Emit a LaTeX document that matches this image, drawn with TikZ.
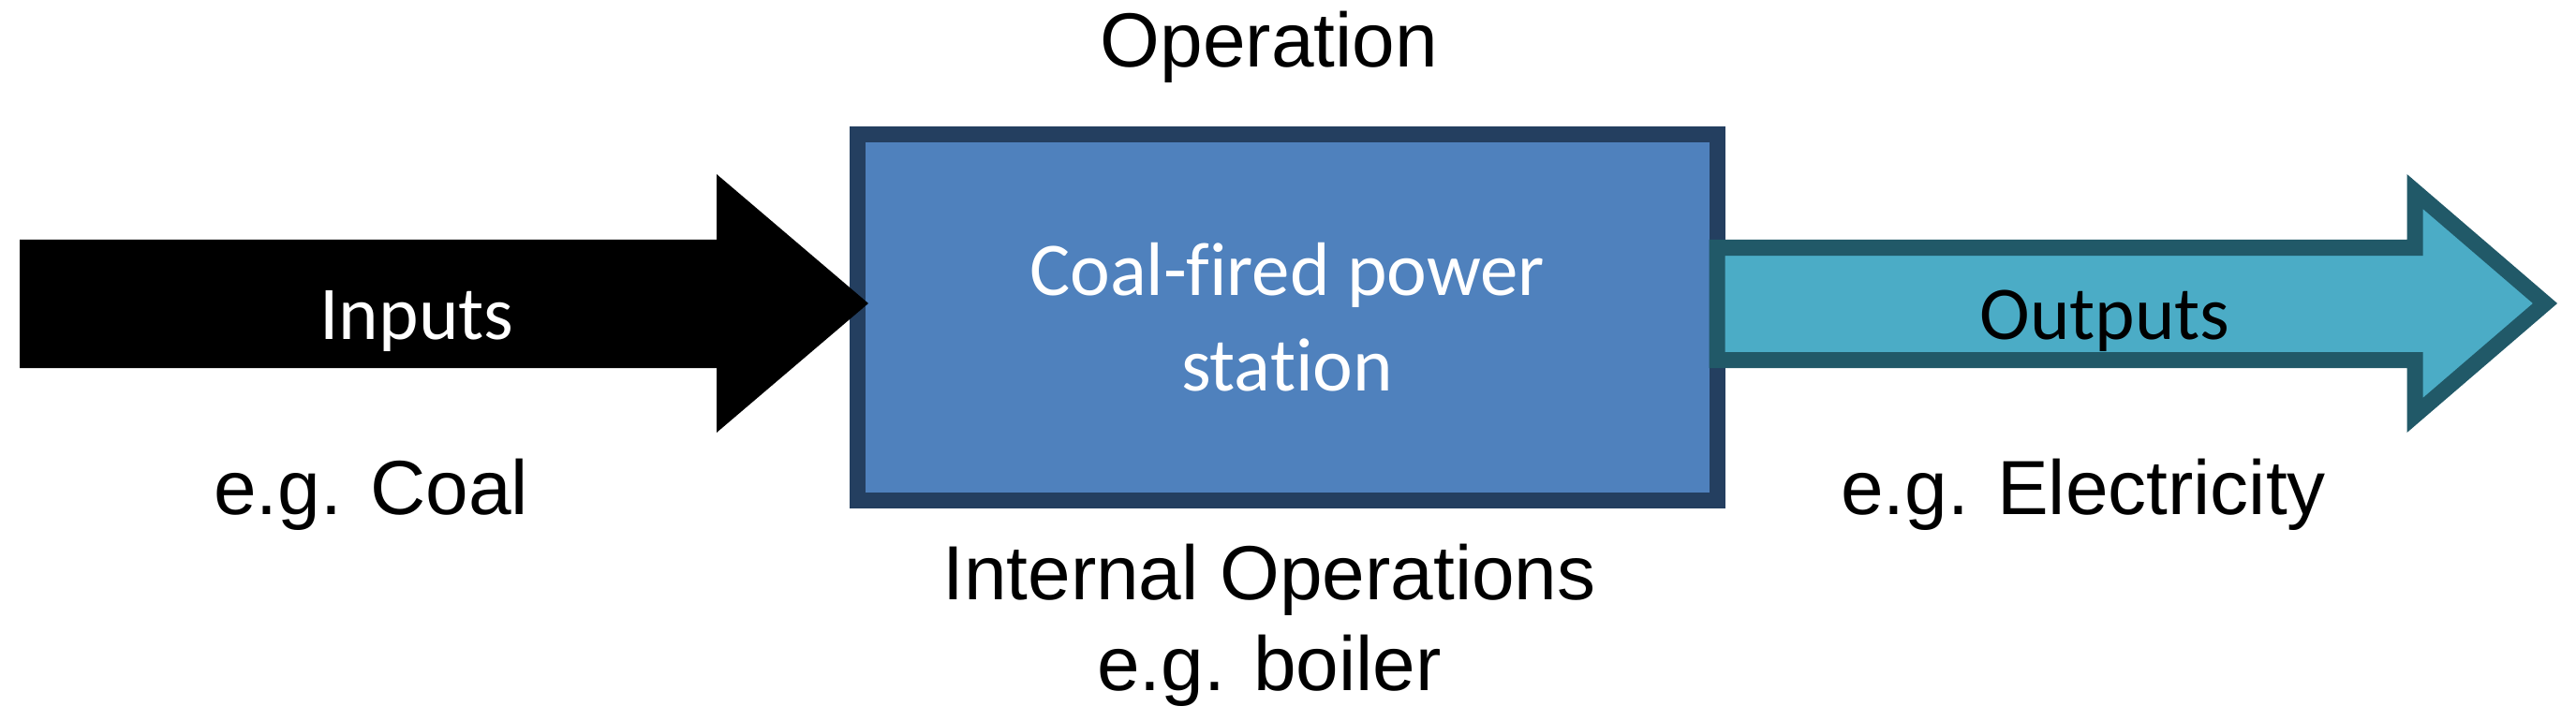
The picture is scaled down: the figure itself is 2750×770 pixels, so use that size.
\documentclass[tikz,border=0pt]{standalone}
\usepackage{fontspec}
\setmainfont{Liberation Sans}
\newfontfamily\calib[Ligatures=NoCommon]{Carlito}
\definecolor{boxfill}{HTML}{4F81BD}
\definecolor{boxline}{HTML}{243F60}
\definecolor{tealfill}{HTML}{4BACC6}
\definecolor{tealline}{HTML}{215968}
\tikzset{
  lbl/.style={anchor=base, inner sep=0pt, font=\fontsize{20.5pt}{24.25pt}\selectfont},
  shapetext/.style={anchor=base, inner sep=0pt, font=\calib\fontsize{20.25pt}{25.5pt}\selectfont},
  stationbox/.style={draw=boxline, fill=boxfill, line width=4.25pt, rectangle, inner sep=0pt,
     minimum width=229.5pt, minimum height=97.75pt, align=center, text=white,
     font=\calib\fontsize{20.25pt}{25.5pt}\selectfont},
  outarrow/.style={draw=tealline, fill=tealfill, line width=4.25pt, line join=miter},
}
\begin{document}
\begin{tikzpicture}[x=0.25pt,y=-0.25pt]
\useasboundingbox (0,0) rectangle (2750,770);
% central box
\node[stationbox] (station) at (1374,339) {Coal-fired power\\station};
% input arrow
\fill[black] (21,256) -- (765,256) -- (765,186) -- (927,324) -- (765,462) -- (765,393) -- (21,393) -- cycle;
\node[shapetext, text=white] (inputs) at (445,362) {Inputs};
% output arrow
\draw[outarrow] (1833,264.5) -- (2578,264.5) -- (2578,204.5) -- (2717,324) -- (2578,443.5) -- (2578,384.5) -- (1833,384.5) -- cycle;
\node[shapetext, text=black] (outputs) at (2247,362) {Outputs};
% labels
\node[lbl] (operation) at (1355,72) {Operation};
\node[lbl] (coal) at (396,549) {e.g. Coal};
\node[lbl] (elec) at (2224,549) {e.g. Electricity};
\node[lbl, anchor=center, align=center] (internal) at (1355,667.5) {Internal Operations\\e.g. boiler};
\end{tikzpicture}
\end{document}
